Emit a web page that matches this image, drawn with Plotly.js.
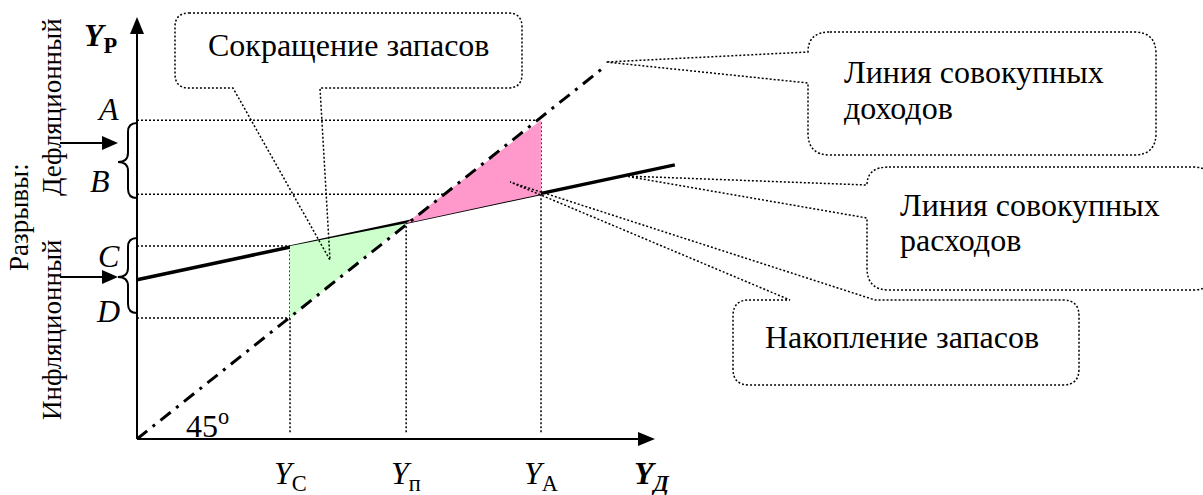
<!DOCTYPE html>
<html><head><meta charset="utf-8">
<script src="https://cdn.plot.ly/plotly-3.0.1.min.js"></script>
<style>html,body{margin:0;padding:0;background:#fff}#chart{width:1203px;height:495px}</style>
</head><body><div id="chart"></div>
<script>
// ---- values ----
const incomeLabels = ['<i>Y</i><sub>С</sub>', '<i>Y</i><sub>п</sub>', '<i>Y</i><sub>А</sub>'];
const incomeValues = [30.3, 53.3, 80.0];          // Y_C, Y_п, Y_A
const gapLabels = ['<i>A</i>', '<i>B</i>', '<i>C</i>', '<i>D</i>'];
const gapValues = [79.3, 60.9, 48.0, 30.1];       // A, B, C, D
const equilibriumValue = 53.7;
const incomeLineX = [0, 92.5];                    // 45° line (aggregate income)
const incomeLineY = [0, 92.5];
const expenseLineX = [0, 106.5];                  // aggregate expenditure
const expenseLineY = [39.6, 68.2];

// ---- layout constants ----
const W = 1203, H = 495, X0 = 137, Y0 = 439, KX = 5.05, KY = 4.02;
const FONT = 'Liberation Serif, Times New Roman, serif';
const FS = 32;
const GUIDE_GAP = 1.7;   // dotted verticals stop just above the axis

const [yC, yP, yA] = incomeValues;
const [gA, gB, gC, gD] = gapValues;

const guide = {color: '#000', width: 1.5, dash: '2px,2px'};
const traces = [];
function addLine(x, y, line) { traces.push({type: 'scatter', mode: 'lines', x, y, line, hoverinfo: 'skip'}); }
// dotted guides
addLine([0, yA], [gA, gA], guide);
addLine([0, yA], [gB, gB], guide);
addLine([0, yC], [gC, gC], guide);
addLine([0, yC], [gD, gD], guide);
addLine([yC, yC], [GUIDE_GAP, gC], guide);
addLine([yP, yP], [GUIDE_GAP, equilibriumValue], guide);
addLine([yA, yA], [GUIDE_GAP, gA], guide);
// aggregate expenditure line
addLine(expenseLineX, expenseLineY, {color: '#000', width: 3.5});
// fills
traces.push({type: 'scatter', mode: 'none', x: [yC, yP, yC], y: [gC, equilibriumValue, gD],
  fill: 'toself', fillcolor: '#ccffcc', hoverinfo: 'skip'});
traces.push({type: 'scatter', mode: 'none', x: [yP, yA, yA], y: [equilibriumValue, gA, gB],
  fill: 'toself', fillcolor: '#ff99cc', hoverinfo: 'skip'});
// 45° line
addLine(incomeLineX, incomeLineY, {color: '#000', width: 3, dash: '13px,7px,3px,7px'});

// helpers for pixel-placed decorations
function cv(s) { return s.replace(/(-?\d+(?:\.\d+)?),(-?\d+(?:\.\d+)?)/g, (m, a, b) => (a / W) + ',' + (1 - b / H)); }
function pathShape(d, line, fill) {
  return {type: 'path', xref: 'paper', yref: 'paper', path: cv(d), line, fillcolor: fill || 'rgba(0,0,0,0)'};
}
const solid2 = {color: '#000', width: 2};
const none = {color: 'rgba(0,0,0,0)', width: 0};
const dotted = {color: '#000', width: 1.5, dash: '2px,2px'};

const shapes = [
  // axes
  pathShape('M137,439 L137,30', solid2),
  pathShape('M137,439 L642,439', solid2),
  pathShape('M137,17 L130,34 L144,34 Z', none, '#000'),
  pathShape('M655,439 L638,432 L638,446 Z', none, '#000'),
  // gap arrows
  pathShape('M60,143 L104,143', solid2),
  pathShape('M118,143 L102,136 L102,150 Z', none, '#000'),
  pathShape('M60,277 L104,277', solid2),
  pathShape('M118,277 L102,270 L102,284 Z', none, '#000'),
  // braces
  pathShape('M137,123 Q128,123 128,132 L128,153 Q128,162 118,162 Q128,162 128,171 L128,189 Q128,198 137,198', solid2),
  pathShape('M137,238 Q128,238 128,247 L128,268 Q128,277 118,277 Q128,277 128,286 L128,304 Q128,313 137,313', solid2),
  // callouts
  pathShape('M189,13 L508,13 Q522,13 522,27 L522,74 Q522,88 508,88 L320,88 L330,260 L233,88 L189,88 Q175,88 175,74 L175,27 Q175,13 189,13 Z', dotted),
  pathShape('M830,32 L1134,32 Q1156,32 1156,54 L1156,133 Q1156,155 1134,155 L830,155 Q808,155 808,133 L808,83 L606,62 L808,52 Q808,32 830,32 Z', dotted),
  pathShape('M889,167 L1193,167 Q1215,167 1215,189 L1215,268 Q1215,290 1193,290 L889,290 Q867,290 867,268 L867,218 L625,176 L867,185 Q867,167 889,167 Z', dotted),
  pathShape('M749,300 L790,300 L510,182 L875,300 L1063,300 Q1079,300 1079,316 L1079,369 Q1079,385 1063,385 L749,385 Q733,385 733,369 L733,316 Q733,300 749,300 Z', dotted)
];

function T(text, px, py, o) {
  return Object.assign({xref: 'paper', yref: 'paper', x: px / W, y: 1 - py / H, text, showarrow: false,
    xanchor: 'center', yanchor: 'middle', font: {family: FONT, size: FS, color: '#000'}}, o || {});
}
const gapLabelPos = [[108, 109], [100, 181], [109, 256], [108, 311]];
const annotations = [
  T('<b><i>Y</i><sub>Р</sub></b>', 101, 37),
  T('<b><i>Y<sub>Д</sub></i></b>', 652, 475),
  T('45<sup>o</sup>', 207, 424),
  T('Разрывы:', 19, 217, {textangle: -90, font: {family: FONT, size: 27, color: '#000'}}),
  T('Дефляционный', 52, 107, {textangle: -90, font: {family: FONT, size: 27, color: '#000'}}),
  T('Инфляционный', 52, 330, {textangle: -90, font: {family: FONT, size: 27, color: '#000'}}),
  T('Сокращение запасов', 348, 45),
  T('Линия совокупных', 842, 72, {xanchor: 'left'}),
  T('доходов', 842, 108, {xanchor: 'left'}),
  T('Линия совокупных', 898, 205, {xanchor: 'left'}),
  T('расходов', 898, 240, {xanchor: 'left'}),
  T('Накопление запасов', 902, 337)
];
gapLabels.forEach((t, i) => annotations.push(T(t, gapLabelPos[i][0], gapLabelPos[i][1])));
incomeLabels.forEach((t, i) => annotations.push({xref: 'x', yref: 'paper', x: incomeValues[i], y: 1 - 475 / H,
  text: t, showarrow: false, xanchor: 'center', yanchor: 'middle', font: {family: FONT, size: FS, color: '#000'}}));

const layout = {
  width: W, height: H, margin: {l: 0, r: 0, t: 0, b: 0},
  paper_bgcolor: '#fff', plot_bgcolor: '#fff', showlegend: false,
  xaxis: {visible: false, range: [-X0 / KX, (W - X0) / KX], fixedrange: true},
  yaxis: {visible: false, range: [-(H - Y0) / KY, Y0 / KY], fixedrange: true},
  shapes, annotations
};
Plotly.newPlot('chart', traces, layout, {displayModeBar: false, staticPlot: true});
</script></body></html>
